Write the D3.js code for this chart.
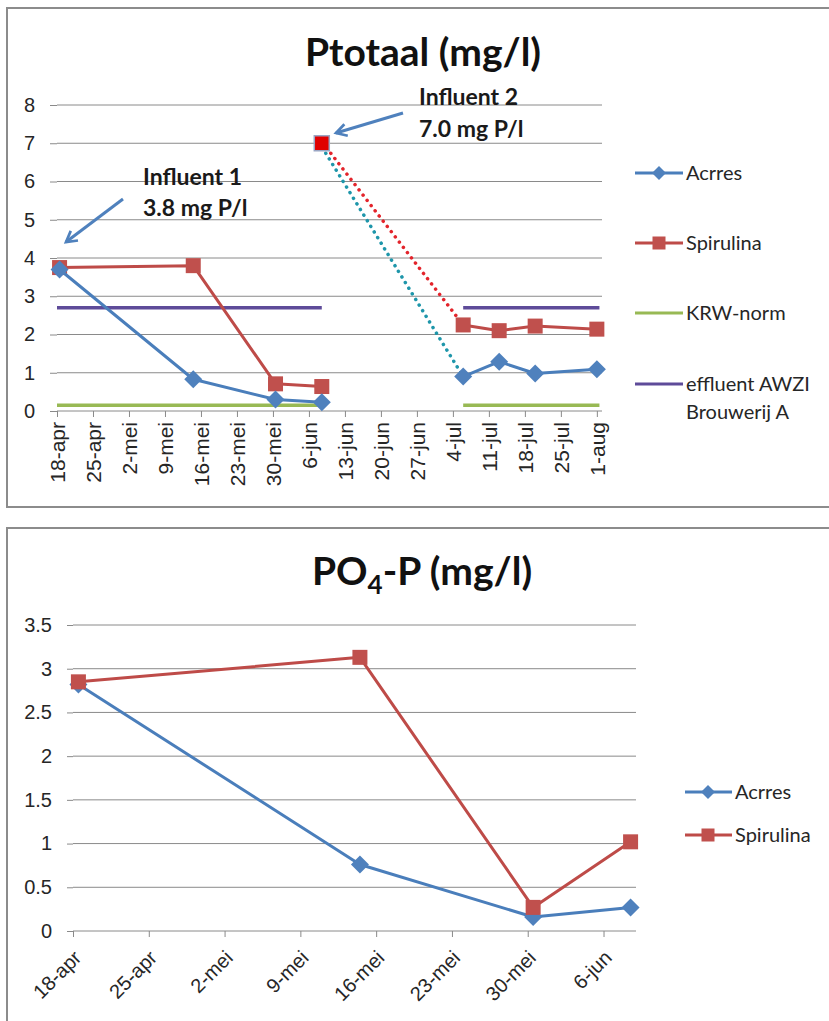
<!DOCTYPE html>
<html>
<head>
<meta charset="utf-8">
<script src="https://cdn.jsdelivr.net/npm/d3@7"></script>
<style>
  body { margin: 0; background: #fff; }
  svg { display: block; font-family: Lato, "Open Sans", sans-serif; }
  .grid line { stroke: #8a8a8a; stroke-width: 1; }
  .axis path, .axis line { stroke: #8a8a8a; stroke-width: 1; }
  .axis text { fill: #262626; }
  .legend text { fill: #262626; font-size: 20px; }
  .note { font-weight: bold; font-size: 23px; fill: #1a1a1a; }
  .title { font-weight: bold; font-size: 39px; fill: #111; }
</style>
</head>
<body>
<svg id="main" width="829" height="1021"></svg>
<script>
// ---- data: Ptotaal chart ----
var ptotDates1 = ['2012-04-18T12:00', '2012-05-14T12:00', '2012-05-30T12:00', '2012-06-08T12:00'];
var ptotAcrres1 = [3.7, 0.83, 0.3, 0.23];
var ptotSpirulina1 = [3.75, 3.8, 0.71, 0.64];
var ptotDates2 = ['2012-07-06T00:00', '2012-07-13T00:00', '2012-07-20T00:00', '2012-08-01T00:00'];
var ptotAcrres2 = [0.9, 1.29, 0.98, 1.09];
var ptotSpirulina2 = [2.25, 2.1, 2.22, 2.14];
var influent2Date = '2012-06-08T12:00';
var influent2Value = 7.0;
// norm lines are drawn for both measuring periods
var normPeriods = [['2012-04-18T00:00', '2012-06-08T12:00'], ['2012-07-06T00:00', '2012-08-01T12:00']];
var krwNorm = 0.15;
var effluentAwzi = 2.7;
var ptotTickLabels = ['18-apr', '25-apr', '2-mei', '9-mei', '16-mei', '23-mei', '30-mei', '6-jun',
  '13-jun', '20-jun', '27-jun', '4-jul', '11-jul', '18-jul', '25-jul', '1-aug'];
var ptotYTicks = [0, 1, 2, 3, 4, 5, 6, 7, 8];

// ---- data: PO4-P chart ----
var po4Dates = ['2012-04-18T12:00', '2012-05-14T12:00', '2012-05-30T12:00', '2012-06-08T12:00'];
var po4Acrres = [2.82, 0.76, 0.16, 0.27];
var po4Spirulina = [2.85, 3.13, 0.27, 1.02];
var po4TickLabels = ['18-apr', '25-apr', '2-mei', '9-mei', '16-mei', '23-mei', '30-mei', '6-jun'];
var po4YTicks = [0, 0.5, 1, 1.5, 2, 2.5, 3, 3.5];

var colAcrres = '#4a7ebb';
var colAcrresMarker = '#4f81bd';
var colSpir = '#be4b48';
var colSpirMarker = '#c0504d';
var colKrw = '#98b954';
var colAwzi = '#5e4b99';
var colArrow = '#4f81bd';

var parse = function(s) { return new Date(s); };
var startDay = parse('2012-04-18T00:00');

var svg = d3.select('#main');

// frames around the two charts
svg.append('rect').attr('x', 7).attr('y', 8).attr('width', 840).attr('height', 499)
  .attr('fill', 'none').attr('stroke', '#8c8c8c').attr('stroke-width', 2);
svg.append('rect').attr('x', 7).attr('y', 528).attr('width', 840).attr('height', 520)
  .attr('fill', 'none').attr('stroke', '#8c8c8c').attr('stroke-width', 2);

function zip(dates, values) {
  return dates.map(function(d, i) { return {date: parse(d), value: values[i]}; });
}

function diamond(g, x, y, r, fill) {
  g.append('path')
    .attr('d', `M${x},${y - r}L${x + r},${y}L${x},${y + r}L${x - r},${y}Z`)
    .attr('fill', fill);
}

function square(g, x, y, s, fill, stroke) {
  g.append('rect')
    .attr('x', x - s / 2).attr('y', y - s / 2)
    .attr('width', s).attr('height', s)
    .attr('fill', fill)
    .attr('stroke', stroke || 'none')
    .attr('stroke-width', stroke ? 1.5 : 0);
}

function drawSeries(g, pts, x, y, color, markerColor, type) {
  var line = d3.line().x(function(d) { return x(d.date); }).y(function(d) { return y(d.value); });
  g.append('path').datum(pts)
    .attr('d', line)
    .attr('fill', 'none')
    .attr('stroke', color)
    .attr('stroke-width', 3)
    .attr('stroke-linejoin', 'round');
  pts.forEach(function(d) {
    if (type === 'diamond') diamond(g, x(d.date), y(d.value), 9, markerColor);
    else square(g, x(d.date), y(d.value), 15, markerColor);
  });
}

function drawGrid(g, y, ticks, x0, x1) {
  g.append('g').attr('class', 'grid')
    .selectAll('line').data(ticks.filter(function(t) { return t > 0; }))
    .enter().append('line')
    .attr('x1', x0).attr('x2', x1)
    .attr('y1', function(d) { return y(d); })
    .attr('y2', function(d) { return y(d); });
}

function tickDates(labels) {
  return labels.map(function(l, i) { return d3.timeDay.offset(startDay, 7 * i); });
}

// ================= Ptotaal =================
(function() {
  var x = d3.scaleTime()
    .domain([startDay, parse('2012-08-02T00:00')])
    .range([57, 602]);
  var y = d3.scaleLinear().domain([0, 8]).range([411, 105]);
  var g = svg.append('g');

  drawGrid(g, y, ptotYTicks, 57, 602);

  var yAxis = d3.axisLeft(y).tickValues(ptotYTicks).tickSize(7).tickPadding(15)
    .tickFormat(d3.format('d'));
  g.append('g').attr('class', 'axis').attr('transform', 'translate(57,0)').call(yAxis)
    .call(function(a) { a.select('.domain').remove(); a.selectAll('text').style('font-size', '20px'); });

  var ticks = tickDates(ptotTickLabels);
  var xAxis = d3.axisBottom(x).tickValues(ticks).tickSize(6)
    .tickFormat(function(d, i) { return ptotTickLabels[i]; });
  var xa = g.append('g').attr('class', 'axis').attr('transform', 'translate(0,411)').call(xAxis);
  xa.select('.domain').attr('d', 'M57,0H602');
  xa.selectAll('text')
    .style('font-size', '21px')
    .attr('text-anchor', 'end')
    .attr('transform', 'rotate(-90)')
    .attr('x', -11).attr('y', 0).attr('dy', '0.35em');

  // norm lines
  normPeriods.forEach(function(p) {
    [[effluentAwzi, colAwzi], [krwNorm, colKrw]].forEach(function(n) {
      g.append('line')
        .attr('x1', x(parse(p[0]))).attr('x2', x(parse(p[1])))
        .attr('y1', y(n[0])).attr('y2', y(n[0]))
        .attr('stroke', n[1]).attr('stroke-width', 3.5);
    });
  });

  var a1 = zip(ptotDates1, ptotAcrres1);
  var s1 = zip(ptotDates1, ptotSpirulina1);
  var a2 = zip(ptotDates2, ptotAcrres2);
  var s2 = zip(ptotDates2, ptotSpirulina2);
  var inf = {date: parse(influent2Date), value: influent2Value};

  // dotted links from influent 2 to the second period
  [[a2[0], '#1e96aa', -2], [s2[0], '#e3242b', 3]].forEach(function(l) {
    g.append('line')
      .attr('x1', x(inf.date) + l[2] + 6).attr('y1', y(inf.value) + 10)
      .attr('x2', x(l[0].date)).attr('y2', y(l[0].value))
      .attr('stroke', l[1]).attr('stroke-width', 3.5)
      .attr('stroke-linecap', 'round')
      .attr('stroke-dasharray', '0.1 6.5');
  });

  drawSeries(g, s1, x, y, colSpir, colSpirMarker, 'square');
  drawSeries(g, a1, x, y, colAcrres, colAcrresMarker, 'diamond');
  drawSeries(g, s2, x, y, colSpir, colSpirMarker, 'square');
  drawSeries(g, a2, x, y, colAcrres, colAcrresMarker, 'diamond');
  square(g, x(inf.date), y(inf.value), 15, '#e00000', '#9aa6c4');

  // annotations
  var defs = svg.append('defs');
  defs.append('marker').attr('id', 'arrowhead')
    .attr('viewBox', '0 0 10 10').attr('refX', 8).attr('refY', 5)
    .attr('markerWidth', 5).attr('markerHeight', 5).attr('orient', 'auto')
    .append('path').attr('d', 'M1,1L8,5L1,9')
    .attr('fill', 'none').attr('stroke', colArrow).attr('stroke-width', 1.8)
    .attr('stroke-linejoin', 'miter');

  g.append('line').attr('x1', 123).attr('y1', 199).attr('x2', 66).attr('y2', 242)
    .attr('stroke', colArrow).attr('stroke-width', 3).attr('marker-end', 'url(#arrowhead)');
  g.append('line').attr('x1', 403).attr('y1', 113).attr('x2', 336).attr('y2', 133)
    .attr('stroke', colArrow).attr('stroke-width', 3).attr('marker-end', 'url(#arrowhead)');

  g.append('text').attr('class', 'note').attr('x', 143).attr('y', 185).text('Influent 1');
  g.append('text').attr('class', 'note').attr('x', 143).attr('y', 216).text('3.8 mg P/l');
  g.append('text').attr('class', 'note').attr('x', 419).attr('y', 105).text('Influent 2');
  g.append('text').attr('class', 'note').attr('x', 419).attr('y', 137).text('7.0 mg P/l');

  g.append('text').attr('class', 'title').attr('x', 423).attr('y', 66)
    .attr('text-anchor', 'middle').text('Ptotaal (mg/l)');

  // legend
  var lg = g.append('g').attr('class', 'legend');
  var items = [
    {name: ['Acrres'], color: colAcrres, mark: 'diamond', y: 173},
    {name: ['Spirulina'], color: colSpir, mark: 'square', y: 243},
    {name: ['KRW-norm'], color: colKrw, mark: null, y: 313},
    {name: ['effluent AWZI', 'Brouwerij A'], color: colAwzi, mark: null, y: 384}
  ];
  items.forEach(function(it) {
    lg.append('line').attr('x1', 635).attr('x2', 683).attr('y1', it.y).attr('y2', it.y)
      .attr('stroke', it.color).attr('stroke-width', 3);
    if (it.mark === 'diamond') diamond(lg, 659, it.y, 7, colAcrresMarker);
    if (it.mark === 'square') square(lg, 659, it.y, 13, colSpirMarker);
    it.name.forEach(function(n, j) {
      lg.append('text').attr('x', 686).attr('y', it.y + j * 28).attr('dy', '0.35em').text(n);
    });
  });
})();

// ================= PO4-P =================
(function() {
  var x = d3.scaleTime()
    .domain([startDay, parse('2012-06-09T00:00')])
    .range([73, 636]);
  var y = d3.scaleLinear().domain([0, 3.5]).range([931, 625]);
  var g = svg.append('g');

  drawGrid(g, y, po4YTicks, 73, 636);

  var yAxis = d3.axisLeft(y).tickValues(po4YTicks).tickSize(6).tickPadding(15)
    .tickFormat(function(d) { return d3.format('')(d); });
  g.append('g').attr('class', 'axis').attr('transform', 'translate(73,0)').call(yAxis)
    .call(function(a) { a.select('.domain').remove(); a.selectAll('text').style('font-size', '20px'); });

  var ticks = tickDates(po4TickLabels);
  var xAxis = d3.axisBottom(x).tickValues(ticks).tickSize(6)
    .tickFormat(function(d, i) { return po4TickLabels[i]; });
  var xa = g.append('g').attr('class', 'axis').attr('transform', 'translate(0,931)').call(xAxis);
  xa.select('.domain').attr('d', 'M73,0H636');
  xa.selectAll('text')
    .style('font-size', '20px')
    .attr('text-anchor', 'end')
    .attr('y', 0).attr('dy', 0)
    .attr('transform', 'translate(9,28) rotate(-45)');

  drawSeries(g, zip(po4Dates, po4Acrres), x, y, colAcrres, colAcrresMarker, 'diamond');
  drawSeries(g, zip(po4Dates, po4Spirulina), x, y, colSpir, colSpirMarker, 'square');

  var title = g.append('text').attr('class', 'title').attr('x', 422).attr('y', 585)
    .attr('text-anchor', 'middle');
  title.append('tspan').text('PO');
  title.append('tspan').attr('dy', 9).style('font-size', '26px').text('4');
  title.append('tspan').attr('dy', -9).text('-P (mg/l)');

  var lg = g.append('g').attr('class', 'legend');
  [{name: 'Acrres', color: colAcrres, mark: 'diamond', y: 792},
   {name: 'Spirulina', color: colSpir, mark: 'square', y: 835}].forEach(function(it) {
    lg.append('line').attr('x1', 685).attr('x2', 732).attr('y1', it.y).attr('y2', it.y)
      .attr('stroke', it.color).attr('stroke-width', 3);
    if (it.mark === 'diamond') diamond(lg, 708, it.y, 7, colAcrresMarker);
    else square(lg, 708, it.y, 13, colSpirMarker);
    lg.append('text').attr('x', 735).attr('y', it.y).attr('dy', '0.35em').text(it.name);
  });
})();
</script>
</body>
</html>
